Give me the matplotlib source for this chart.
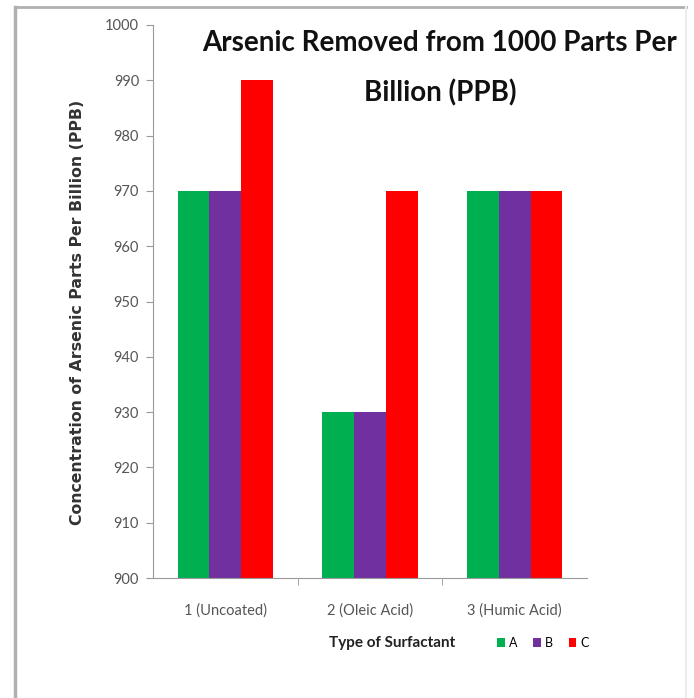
import numpy as np
import matplotlib.pyplot as plt
from matplotlib.patches import Patch
from matplotlib.lines import Line2D

# arsenic left in solution (ppb) for each surfactant and trial
categories = ["1 (Uncoated)", "2 (Oleic Acid)", "3 (Humic Acid)"]
series_names = ["A", "B", "C"]
values_a = [970, 930, 970]
values_b = [970, 930, 970]
values_c = [990, 970, 970]
colors = ["#00B050", "#7030A0", "#FF0000"]

yticks = list(range(900, 1001, 10))

body = ["Lato", "DejaVu Sans"]

fig = plt.figure(figsize=(6.94, 6.98), dpi=100)
W, H = 694, 698

ax = fig.add_axes([153 / W, 1 - 578 / H, (587 - 153) / W, (578 - 25) / H])

x = np.arange(len(categories))
bar_w = 0.22
for i, (vals, col) in enumerate(zip([values_a, values_b, values_c], colors)):
    ax.bar(x + (i - 1) * bar_w, np.array(vals) - 900, bottom=900,
           width=bar_w, color=col, linewidth=0)

ax.set_xlim(-0.5, len(categories) - 0.5)
ax.set_ylim(900, 1000)
ax.set_yticks(yticks)
ax.set_yticklabels([str(t) for t in yticks], family=body, fontsize=10.5,
                   color="#555555")
ax.set_xticks(x)
ax.set_xticklabels(categories, family=body, fontsize=10.5, color="#555555")
ax.tick_params(axis="x", length=0, pad=18)
ax.tick_params(axis="y", length=5, color="#999999", pad=5)
# category separators on the x axis
ax.set_xticks([0.5, 1.5], minor=True)
ax.tick_params(axis="x", which="minor", length=5, color="#999999")

for side in ["top", "right"]:
    ax.spines[side].set_visible(False)
for side in ["left", "bottom"]:
    ax.spines[side].set_color("#999999")

ax.set_ylabel("Concentration of Arsenic Parts Per Billion (PPB)",
              fontsize=11.3, fontweight="bold", color="#333333")
ax.yaxis.set_label_coords((85 - 153) / (587 - 153), (578 - 312) / (578 - 25))

fig.text(440 / W, 1 - 68 / H, "Arsenic Removed from 1000 Parts Per\nBillion (PPB)",
         ha="center", va="center", family=body, fontsize=20,
         fontweight="bold", color="#111111", linespacing=2.05)

# legend row under the category labels
fig.text(392 / W, 1 - 643 / H, "Type of Surfactant", ha="center", va="center",
         family=body, fontsize=11, fontweight="bold", color="#222222")
handles = [Patch(facecolor=c, edgecolor="none") for c in colors]
fig.legend(handles, series_names, loc="center", bbox_to_anchor=(543 / W, 1 - 643 / H),
           ncol=3, frameon=False, handlelength=0.6, handleheight=0.7,
           handletextpad=0.3, columnspacing=1.3,
           prop={"family": body, "size": 9})

# outer border of the chart area
fig.add_artist(Line2D([15 / W, 15 / W], [1 - 7 / H, 1 - 697 / H], transform=fig.transFigure,
                      color="#b0b0b0", linewidth=2.5))
fig.add_artist(Line2D([15 / W, 686 / W], [1 - 7 / H, 1 - 7 / H], transform=fig.transFigure,
                      color="#b0b0b0", linewidth=2))
fig.add_artist(Line2D([686 / W, 686 / W], [1 - 7 / H, 1 - 697 / H], transform=fig.transFigure,
                      color="#ececec", linewidth=1.5))

fig.savefig("out.png", dpi=100)
